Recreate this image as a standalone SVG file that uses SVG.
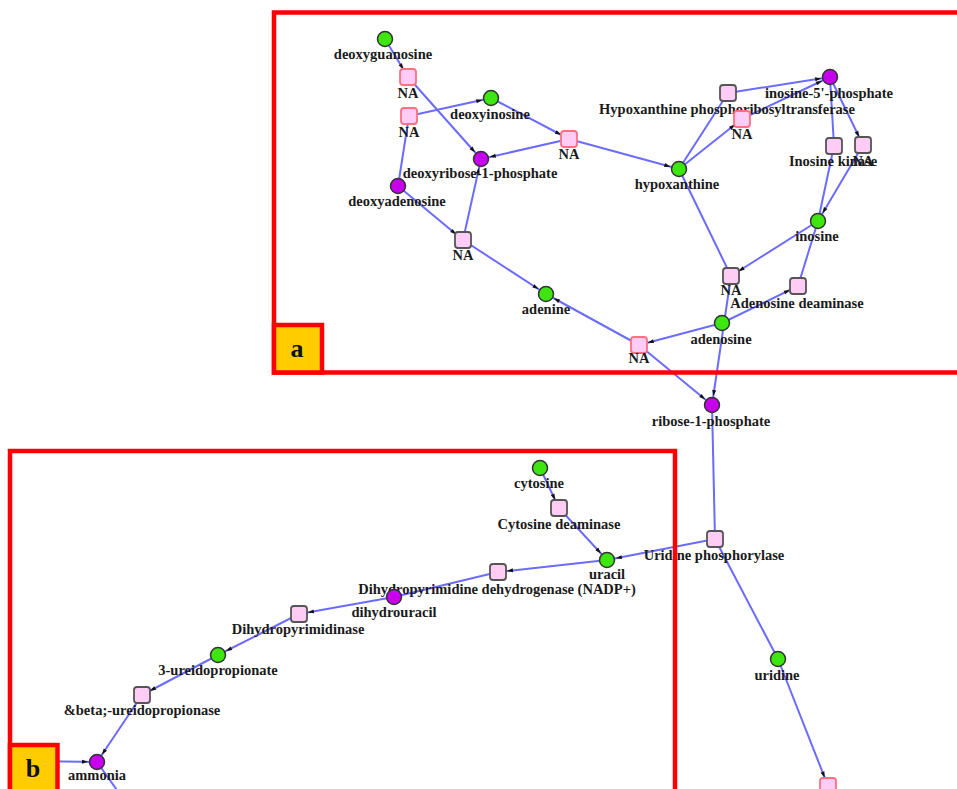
<svg xmlns="http://www.w3.org/2000/svg" width="957" height="789" viewBox="0 0 957 789">
<style>
.e{stroke:#6b6bff;stroke-width:2;fill:none}
.a{marker-end:url(#arr)}
.g{fill:#3de60e;stroke:#333;stroke-width:1.5}
.p{fill:#c800f0;stroke:#333;stroke-width:1.5}
.s{fill:#ffccf5;stroke:#555;stroke-width:1.8}
.r{fill:#ffccf5;stroke:#ff7080;stroke-width:1.8}
text{font-family:"Liberation Serif","Times New Roman",serif;font-weight:bold;font-size:14.5px;fill:#1a1a1a;text-anchor:middle}
.fr{fill:none;stroke:#ff0000;stroke-width:4.5}
.lb{fill:#ffcc00;stroke:#ff0000;stroke-width:4.5}
.big{font-size:26px;fill:#111}
</style>
<defs>
<marker id="arr" viewBox="0 0 6 4" markerWidth="6" markerHeight="4" markerUnits="userSpaceOnUse" refX="15" refY="2" orient="auto" overflow="visible">
<path d="M0,0 L6,2 L0,4 z" fill="#111"/>
</marker>
</defs>
<rect width="957" height="789" fill="#fff"/>
<g id="connectors">
<line class="e a" x1="385" y1="39" x2="408" y2="77"/>
<line class="e a" x1="408" y1="77" x2="481" y2="159"/>
<line class="e a" x1="409" y1="116" x2="491" y2="98"/>
<line class="e" x1="398" y1="186" x2="409" y2="116"/>
<line class="e a" x1="491" y1="98" x2="569" y2="139"/>
<line class="e a" x1="569" y1="139" x2="481" y2="159"/>
<line class="e a" x1="569" y1="139" x2="679" y2="169"/>
<line class="e a" x1="398" y1="186" x2="463" y2="240"/>
<line class="e a" x1="463" y1="240" x2="481" y2="159"/>
<line class="e a" x1="463" y1="240" x2="546" y2="294"/>
<line class="e a" x1="639" y1="345" x2="546" y2="294"/>
<line class="e a" x1="722" y1="323" x2="639" y2="345"/>
<line class="e a" x1="639" y1="345" x2="712" y2="405"/>
<line class="e a" x1="731" y1="276" x2="712" y2="405"/>
<line class="e" x1="679" y1="169" x2="731" y2="276"/>
<line class="e a" x1="818" y1="221" x2="731" y2="276"/>
<line class="e a" x1="722" y1="323" x2="798" y2="286"/>
<line class="e" x1="798" y1="286" x2="818" y2="221"/>
<line class="e" x1="679" y1="169" x2="728" y2="93"/>
<line class="e a" x1="728" y1="93" x2="830" y2="77"/>
<line class="e a" x1="679" y1="169" x2="742" y2="119"/>
<line class="e a" x1="742" y1="119" x2="830" y2="77"/>
<line class="e" x1="830" y1="77" x2="834" y2="146"/>
<line class="e" x1="834" y1="146" x2="818" y2="221"/>
<line class="e a" x1="830" y1="77" x2="863" y2="145"/>
<line class="e a" x1="863" y1="145" x2="818" y2="221"/>
<line class="e" x1="712" y1="405" x2="715" y2="539"/>
<line class="e a" x1="715" y1="539" x2="607" y2="560"/>
<line class="e" x1="715" y1="539" x2="778" y2="659"/>
<line class="e a" x1="778" y1="659" x2="828" y2="786"/>
<line class="e a" x1="540" y1="468" x2="559" y2="508"/>
<line class="e a" x1="559" y1="508" x2="607" y2="560"/>
<line class="e a" x1="607" y1="560" x2="498" y2="572"/>
<line class="e" x1="498" y1="572" x2="394" y2="597"/>
<line class="e a" x1="394" y1="597" x2="299" y2="614"/>
<line class="e a" x1="299" y1="614" x2="218" y2="655"/>
<line class="e a" x1="218" y1="655" x2="142" y2="695"/>
<line class="e a" x1="142" y1="695" x2="97" y2="762"/>
<line class="e a" x1="30" y1="761" x2="97" y2="762"/>
<line class="e" x1="97" y1="762" x2="124" y2="800"/>
</g>
<g id="n-deoxyguanosine"><circle class="g" cx="385" cy="39" r="7.5"/><text x="383" y="59">deoxyguanosine</text></g>
<g id="n-na1"><rect class="r" x="400" y="69" width="16" height="16" rx="3"/><text x="408" y="98">NA</text></g>
<g id="n-na2"><rect class="r" x="401" y="108" width="16" height="16" rx="3"/><text x="409" y="137">NA</text></g>
<g id="n-deoxyinosine"><circle class="g" cx="491" cy="98" r="7.5"/><text x="490" y="119">deoxyinosine</text></g>
<g id="n-na3"><rect class="r" x="561" y="131" width="16" height="16" rx="3"/><text x="569" y="159">NA</text></g>
<g id="n-deoxyribose1p"><circle class="p" cx="481" cy="159" r="7.5"/><text x="480" y="178">deoxyribose-1-phosphate</text></g>
<g id="n-deoxyadenosine"><circle class="p" cx="398" cy="186" r="7.5"/><text x="397" y="206">deoxyadenosine</text></g>
<g id="n-na4"><rect class="s" x="455" y="232" width="16" height="16" rx="3"/><text x="463" y="260">NA</text></g>
<g id="n-adenine"><circle class="g" cx="546" cy="294" r="7.5"/><text x="546" y="314">adenine</text></g>
<g id="n-na5"><rect class="r" x="631" y="337" width="16" height="16" rx="3"/><text x="639" y="363">NA</text></g>
<g id="n-imp"><circle class="p" cx="830" cy="77" r="7.5"/><text x="829" y="98">inosine-5'-phosphate</text></g>
<g id="n-hprt"><rect class="s" x="720" y="85" width="16" height="16" rx="3"/><text x="727" y="114">Hypoxanthine phosphoribosyltransferase</text></g>
<g id="n-na7"><rect class="r" x="734" y="111" width="16" height="16" rx="3"/><text x="742" y="139">NA</text></g>
<g id="n-hypoxanthine"><circle class="g" cx="679" cy="169" r="7.5"/><text x="677" y="189">hypoxanthine</text></g>
<g id="n-inosinekinase"><rect class="s" x="826" y="138" width="16" height="16" rx="3"/><text x="833" y="166">Inosine kinase</text></g>
<g id="n-na8"><rect class="s" x="855" y="137" width="16" height="16" rx="3"/><text x="863" y="166">NA</text></g>
<g id="n-inosine"><circle class="g" cx="818" cy="221" r="7.5"/><text x="817" y="241">inosine</text></g>
<g id="n-na6"><rect class="s" x="723" y="268" width="16" height="16" rx="3"/><text x="731" y="295">NA</text></g>
<g id="n-ada"><rect class="s" x="790" y="278" width="16" height="16" rx="3"/><text x="797" y="308">Adenosine deaminase</text></g>
<g id="n-adenosine"><circle class="g" cx="722" cy="323" r="7.5"/><text x="721" y="344">adenosine</text></g>
<g id="n-ribose1p"><circle class="p" cx="712" cy="405" r="7.5"/><text x="711" y="426">ribose-1-phosphate</text></g>
<g id="n-cytosine"><circle class="g" cx="540" cy="468" r="7.5"/><text x="539" y="488">cytosine</text></g>
<g id="n-cytdeam"><rect class="s" x="551" y="500" width="16" height="16" rx="3"/><text x="559" y="529">Cytosine deaminase</text></g>
<g id="n-uridphos"><rect class="s" x="707" y="531" width="16" height="16" rx="3"/><text x="714" y="560">Uridine phosphorylase</text></g>
<g id="n-uracil"><circle class="g" cx="607" cy="560" r="7.5"/><text x="607" y="579">uracil</text></g>
<g id="n-dpd"><rect class="s" x="490" y="564" width="16" height="16" rx="3"/><text x="497" y="594">Dihydropyrimidine dehydrogenase (NADP+)</text></g>
<g id="n-dihydrouracil"><circle class="p" cx="394" cy="597" r="7.5"/><text x="394" y="617">dihydrouracil</text></g>
<g id="n-dhp"><rect class="s" x="291" y="606" width="16" height="16" rx="3"/><text x="298" y="634">Dihydropyrimidinase</text></g>
<g id="n-ureidoprop"><circle class="g" cx="218" cy="655" r="7.5"/><text x="218" y="675">3-ureidopropionate</text></g>
<g id="n-bup"><rect class="s" x="134" y="687" width="16" height="16" rx="3"/><text x="142" y="715">&amp;beta;-ureidopropionase</text></g>
<g id="n-ammonia"><circle class="p" cx="97" cy="762" r="7.5"/><text x="97" y="780">ammonia</text></g>
<g id="n-uridine"><circle class="g" cx="778" cy="659" r="7.5"/><text x="777" y="680">uridine</text></g>
<g id="n-bottom"><rect class="r" x="820" y="778" width="16" height="16" rx="3"/></g>
<g id="frame-a">
<rect class="fr" x="274" y="12.5" width="700" height="360"/>
<rect class="lb" x="274" y="325" width="48" height="47.5"/>
<text class="big" x="297" y="357">a</text>
</g>
<g id="frame-b">
<rect class="fr" x="10" y="451" width="665" height="360"/>
<rect class="lb" x="10" y="745" width="47.5" height="60"/>
<text class="big" x="33" y="777">b</text>
</g>
</svg>
